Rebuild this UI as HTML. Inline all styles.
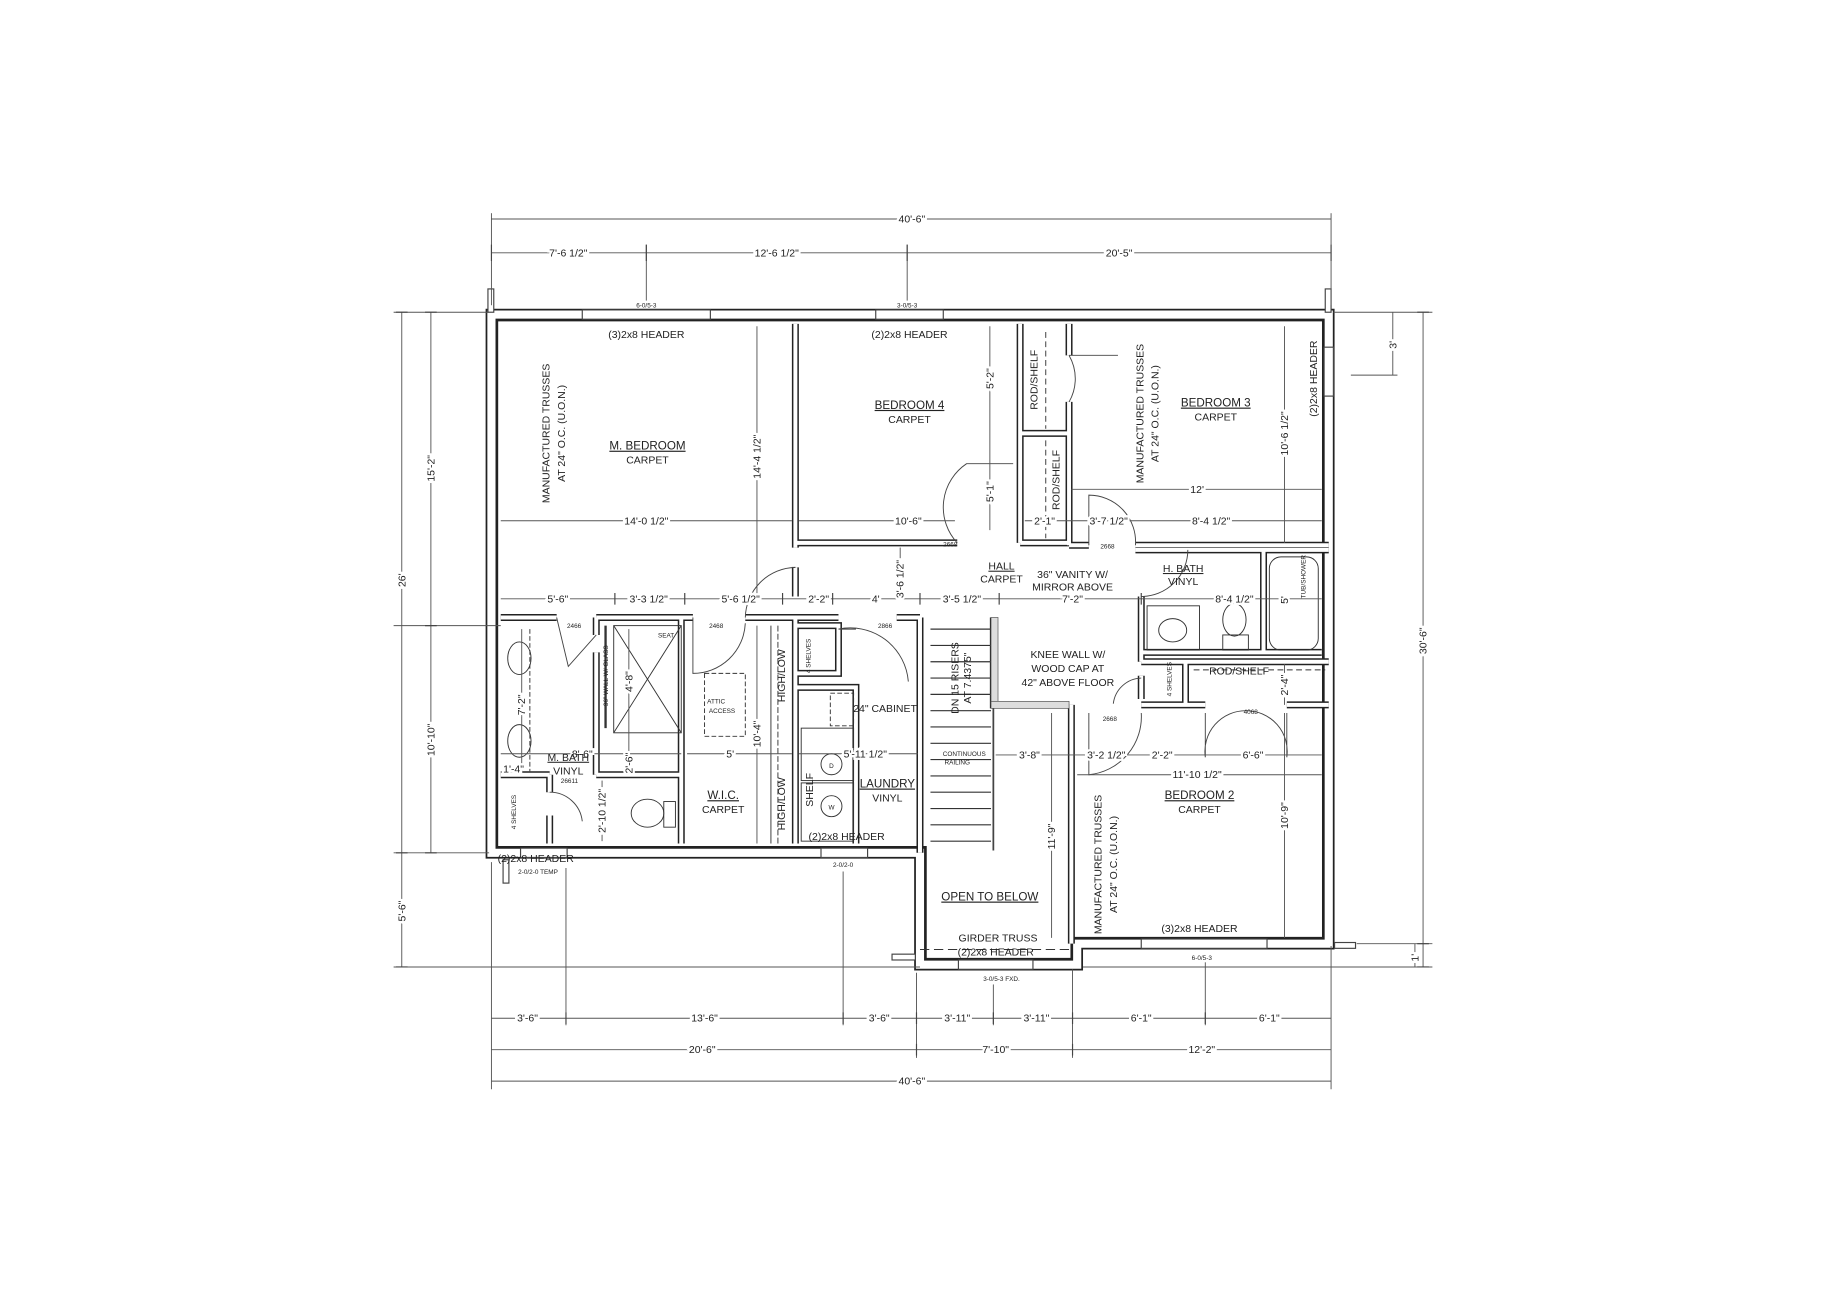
<!DOCTYPE html>
<html><head><meta charset="utf-8"><style>
html,body{margin:0;padding:0;background:#fff}
svg{display:block}
text{font-family:"Liberation Sans",sans-serif;fill:#222}
.t{font-size:9px}
.s{font-size:5.5px}
.l{font-size:10px}
.d line,.d path{stroke:#555;stroke-width:.8;fill:none}
</style></head><body>
<svg width="1826" height="1306" viewBox="0 0 1568 1121" preserveAspectRatio="none" xmlns="http://www.w3.org/2000/svg">
<defs>
<path id="ext" d="M422,270 H1141 V810 H925 V828 H790 V732 H422 Z"/>
<path id="int" d="
M683,278 V470 M683,487 V512
M683,466 H822
M876,278 V372 M876,372 H917 M876,372 V466 M876,466 H918
M918,278 V305 M918,345 V468
M918,468 H935 M975,468 H1141
M430,530 H478 M512,530 H595 M640,530 H720 M770,530 H790
M512,530 V545 M512,560 V665
M430,665 H472 M512,665 H585
M472,665 V680 M472,700 V724
M585,530 V724
M683,530 V724
M683,537 H720 V578 H683 M720,590 H683
M683,590 H735 V724
M790,530 V732
M853,530 V605 H918
M920,605 V810
M980,512 V568 M980,560 H1135
M975,472 H1141 M1085,472 V560
M980,568 H1141 M1018,568 V605 M980,605 H1035 M1105,605 H1141
M980,580 V600
"/>
</defs>
<use href="#ext" stroke="#222" stroke-width="10" fill="none"/>
<use href="#ext" stroke="#fff" stroke-width="7" fill="none"/>
<path d="M427,275 H1136 V805 H920 V823 H795 V727 H427 Z" stroke="#222" stroke-width="1.6" fill="none"/>
<use href="#int" stroke="#222" stroke-width="6" fill="none"/>
<use href="#int" stroke="#fff" stroke-width="3.4" fill="none"/>

<g stroke="#444" stroke-width="1" fill="#fff">
<rect x="500" y="266" width="110" height="8"/><rect x="752" y="266" width="58" height="8"/>
<rect x="1137" y="298" width="8" height="42"/><rect x="980" y="806" width="108" height="8"/>
<rect x="823" y="824" width="64" height="8"/><rect x="447" y="728" width="40" height="8"/>
<rect x="705" y="728" width="40" height="8"/>
<rect x="419" y="248" width="5" height="20"/><rect x="1138" y="248" width="5" height="20"/>
<rect x="432" y="738" width="5" height="20"/><rect x="766" y="819" width="20" height="5"/><rect x="1146" y="809" width="18" height="5"/>
</g>

<g stroke="#333" stroke-width="1">
<path d="M799,540 H851 M799,554 H851 M799,568 H851 M799,582 H851 M799,596 H851 M799,610 H851 M799,624 H851 M799,638 H851 M799,652 H851 M799,666 H851 M799,680 H851 M799,694 H851 M799,708 H851 M799,722 H851"/>
</g>
<rect x="851" y="530" width="6" height="75" fill="#ddd" stroke="#555" stroke-width=".6"/>
<rect x="851" y="602" width="67" height="6" fill="#ddd" stroke="#555" stroke-width=".6"/>
<line x1="853" y1="608" x2="853" y2="730" stroke="#444" stroke-width="1.5"/>

<g stroke="#444" stroke-width=".8" fill="none">
<path d="M640,530 A44,44 0 0 1 683,487"/><path d="M683,487 H680"/>
<path d="M822,466 A45,45 0 0 1 830,398 H870"/>
<path d="M918,305 A40,40 0 0 1 918,345"/><path d="M918,305 H960"/>
<path d="M935,468 V425 A40,40 0 0 1 975,468"/>
<path d="M980,512 A40,40 0 0 0 1020,472"/>
<path d="M478,530 L488,572 L512,545"/>
<path d="M595,530 V578 A45,45 0 0 0 640,535"/>
<path d="M720,540 A50,50 0 0 1 780,585 M720,540 H735"/>
<path d="M980,582 A25,25 0 0 0 956,604"/>
<path d="M935,612 V665 A50,50 0 0 0 980,612"/>
<path d="M1035,612 V650 A35,35 0 0 1 1070,610 A35,35 0 0 1 1105,650 V612"/>
<path d="M472,680 A28,28 0 0 1 500,705"/>
</g>

<g stroke="#333" stroke-width=".8" fill="none">
<ellipse cx="446" cy="565" rx="10" ry="14"/><ellipse cx="446" cy="636" rx="10" ry="14"/>
<line x1="455" y1="540" x2="455" y2="662" stroke-dasharray="4,2"/>
<rect x="527" y="537" width="58" height="92"/><path d="M527,537 L585,629 M585,537 L527,629"/>
<line x1="520" y1="537" x2="520" y2="625" stroke-width="2"/>
<ellipse cx="556" cy="698" rx="14" ry="12"/><rect x="570" y="688" width="10" height="22"/>
<rect x="605" y="578" width="35" height="54" stroke-dasharray="4,2"/>
<line x1="662" y1="537" x2="662" y2="724"/><line x1="668" y1="537" x2="668" y2="724" stroke-dasharray="5,2"/>
<rect x="688" y="625" width="45" height="45"/><rect x="688" y="672" width="45" height="50"/>
<circle cx="714" cy="656" r="9"/><circle cx="714" cy="692" r="9"/>
<rect x="713" y="595" width="20" height="28" stroke-dasharray="4,2"/>
<rect x="985" y="520" width="45" height="38"/><ellipse cx="1007" cy="541" rx="12" ry="10"/>
<ellipse cx="1060" cy="532" rx="10" ry="14"/><rect x="1050" y="545" width="22" height="13"/>
<rect x="1090" y="478" width="42" height="80" rx="10"/>
<line x1="1025" y1="575" x2="1138" y2="575" stroke-dasharray="5,3"/>
<line x1="898" y1="285" x2="898" y2="368" stroke-dasharray="5,3"/><line x1="898" y1="378" x2="898" y2="462" stroke-dasharray="5,3"/>
<line x1="790" y1="815" x2="918" y2="815" stroke-dasharray="8,4"/>
</g>

<g class="d">
<line x1="422" y1="188" x2="1143" y2="188"/><line x1="422" y1="217" x2="1143" y2="217"/>
<line x1="422" y1="183" x2="422" y2="262"/><line x1="1143" y1="183" x2="1143" y2="262"/>
<line x1="555" y1="210" x2="555" y2="258"/><line x1="779" y1="210" x2="779" y2="258"/>
<line x1="345" y1="268" x2="345" y2="830"/><line x1="370" y1="268" x2="370" y2="732"/>
<line x1="338" y1="268" x2="420" y2="268"/><line x1="338" y1="537" x2="430" y2="537"/><line x1="338" y1="732" x2="420" y2="732"/><line x1="338" y1="830" x2="790" y2="830"/>
<line x1="1222" y1="268" x2="1222" y2="830"/><line x1="1145" y1="268" x2="1230" y2="268"/><line x1="1165" y1="810" x2="1230" y2="810"/><line x1="930" y1="830" x2="1230" y2="830"/>
<line x1="1196" y1="268" x2="1196" y2="322"/><line x1="1160" y1="322" x2="1200" y2="322"/><line x1="1215" y1="810" x2="1215" y2="830"/>
<line x1="422" y1="874" x2="1143" y2="874"/><line x1="422" y1="901" x2="1143" y2="901"/><line x1="422" y1="928" x2="1143" y2="928"/>
<line x1="422" y1="740" x2="422" y2="935"/><line x1="1143" y1="812" x2="1143" y2="935"/>
<line x1="486" y1="745" x2="486" y2="880"/><line x1="724" y1="748" x2="724" y2="880"/><line x1="787" y1="835" x2="787" y2="908"/>
<line x1="853" y1="845" x2="853" y2="880"/><line x1="921" y1="832" x2="921" y2="908"/><line x1="1035" y1="826" x2="1035" y2="880"/>
<line x1="430" y1="514" x2="1135" y2="514"/>
<line x1="430" y1="447" x2="680" y2="447"/><line x1="686" y1="447" x2="820" y2="447"/><line x1="880" y1="447" x2="1135" y2="447"/>
<line x1="920" y1="420" x2="1135" y2="420"/>
<line x1="650" y1="280" x2="650" y2="514"/><line x1="850" y1="280" x2="850" y2="455"/>
<line x1="1103" y1="280" x2="1103" y2="466"/><line x1="773" y1="470" x2="773" y2="514"/>
<line x1="855" y1="648" x2="1135" y2="648"/><line x1="925" y1="665" x2="1135" y2="665"/>
<line x1="903" y1="612" x2="903" y2="805"/><line x1="1103" y1="612" x2="1103" y2="805"/><line x1="1103" y1="570" x2="1103" y2="605"/>
<line x1="430" y1="647" x2="585" y2="647"/><line x1="590" y1="647" x2="680" y2="647"/><line x1="686" y1="647" x2="788" y2="647"/>
<line x1="448" y1="540" x2="448" y2="662"/><line x1="540" y1="540" x2="540" y2="665"/><line x1="517" y1="670" x2="517" y2="722"/>
<line x1="650" y1="537" x2="650" y2="724"/>
</g>
<g stroke="#444" stroke-width="1">
<path d="M422,210 V224 M555,210 V224 M779,210 V224 M1143,210 V224 M340,268 H350 M340,732 H350 M340,830 H350 M365,268 H375 M365,537 H375 M365,732 H375 M1217,268 H1227 M1217,810 H1227 M1217,830 H1227 M486,869 V879 M724,869 V879 M787,869 V879 M853,869 V879 M921,869 V879 M1035,869 V879 M787,896 V906 M921,896 V906 M528,509 V519 M588,509 V519 M672,509 V519 M715,509 V519 M790,509 V519 M858,509 V519 M980,509 V519"/>
</g>

<g class="t" text-anchor="middle">
<text x="783" y="191" style="paint-order:stroke" stroke="#fff" stroke-width="4">40'-6"</text>
<g stroke="#fff" stroke-width="4" style="paint-order:stroke">
<text x="488" y="220">7'-6 1/2"</text><text x="667" y="220">12'-6 1/2"</text><text x="961" y="220">20'-5"</text>
<text x="453" y="877">3'-6"</text><text x="605" y="877">13'-6"</text><text x="755" y="877">3'-6"</text><text x="822" y="877">3'-11"</text><text x="890" y="877">3'-11"</text><text x="980" y="877">6'-1"</text><text x="1090" y="877">6'-1"</text>
<text x="603" y="904">20'-6"</text><text x="855" y="904">7'-10"</text><text x="1032" y="904">12'-2"</text>
<text x="783" y="931">40'-6"</text>
<text x="479" y="517">5'-6"</text><text x="557" y="517">3'-3 1/2"</text><text x="636" y="517">5'-6 1/2"</text><text x="703" y="517">2'-2"</text><text x="752" y="517">4'</text><text x="826" y="517">3'-5 1/2"</text><text x="921" y="517">7'-2"</text><text x="1060" y="517">8'-4 1/2"</text>
<text x="555" y="450">14'-0 1/2"</text><text x="780" y="450">10'-6"</text><text x="897" y="450">2'-1"</text><text x="952" y="450">3'-7 1/2"</text><text x="1040" y="450">8'-4 1/2"</text><text x="1028" y="423">12'</text>
<text x="884" y="651">3'-8"</text><text x="950" y="651">3'-2 1/2"</text><text x="998" y="651">2'-2"</text><text x="1076" y="651">6'-6"</text><text x="1028" y="668">11'-10 1/2"</text>
<text x="500" y="650">8'-6"</text><text x="627" y="650">5'</text><text x="743" y="650">5'-11 1/2"</text><text x="441" y="663">1'-4"</text>
</g>
<text x="555" y="290">(3)2x8 HEADER</text><text x="781" y="290">(2)2x8 HEADER</text>
<text x="1030" y="800">(3)2x8 HEADER</text><text x="855" y="820">(2)2x8 HEADER</text><text x="857" y="808">GIRDER TRUSS</text>
<text x="727" y="721">(2)2x8 HEADER</text><text x="460" y="740">(2)2x8 HEADER</text>
<text x="860" y="489" text-decoration="underline">HALL</text><text x="860" y="500">CARPET</text>
<text x="921" y="496">36" VANITY W/</text><text x="921" y="507">MIRROR ABOVE</text>
<text x="1016" y="491" text-decoration="underline">H. BATH</text><text x="1016" y="502">VINYL</text>
<text x="917" y="565">KNEE WALL W/</text><text x="917" y="577">WOOD CAP AT</text><text x="917" y="589">42" ABOVE FLOOR</text>
<text x="1064" y="579">ROD/SHELF</text>
<text x="488" y="653" text-decoration="underline">M. BATH</text><text x="488" y="665">VINYL</text>
<text x="621" y="686" class="l" text-decoration="underline">W.I.C.</text><text x="621" y="698">CARPET</text>
<text x="760" y="611">24" CABINET</text>
<text x="762" y="676" class="l" text-decoration="underline">LAUNDRY</text><text x="762" y="688">VINYL</text>
<text x="850" y="773" class="l" text-decoration="underline">OPEN TO BELOW</text>
<text x="714" y="659" class="s">D</text><text x="714" y="695" class="s">W</text>
</g>
<g class="l" text-anchor="middle">
<text x="556" y="386" text-decoration="underline">M. BEDROOM</text><text x="556" y="398" class="t">CARPET</text>
<text x="781" y="351" text-decoration="underline">BEDROOM 4</text><text x="781" y="363" class="t">CARPET</text>
<text x="1044" y="349" text-decoration="underline">BEDROOM 3</text><text x="1044" y="361" class="t">CARPET</text>
<text x="1030" y="686" text-decoration="underline">BEDROOM 2</text><text x="1030" y="698" class="t">CARPET</text>
</g>
<g class="s" text-anchor="middle">
<text x="555" y="264">6-0/5-3</text><text x="779" y="264">3-0/5-3</text><text x="1032" y="824">6-0/5-3</text>
<text x="860" y="842">3-0/5-3 FXD.</text><text x="724" y="744">2-0/2-0</text><text x="462" y="750">2-0/2-0 TEMP</text>
<text x="615" y="604">ATTIC</text><text x="620" y="612">ACCESS</text>
<text x="572" y="547">SEAT</text><text x="489" y="672">26611</text>
<text x="493" y="539">2466</text><text x="615" y="539">2468</text><text x="760" y="539">2866</text>
<text x="816" y="469">2668</text><text x="951" y="471">2668</text><text x="953" y="619">2668</text><text x="1074" y="613">4068</text>
<text x="828" y="649">CONTINUOUS</text><text x="822" y="656">RAILING</text>
</g>
<g class="t" text-anchor="middle">
<text transform="translate(472,372) rotate(-90)">MANUFACTURED TRUSSES</text>
<text transform="translate(485,372) rotate(-90)">AT 24" O.C. (U.O.N.)</text>
<text transform="translate(982,355) rotate(-90)">MANUFACTURED TRUSSES</text>
<text transform="translate(995,355) rotate(-90)">AT 24" O.C. (U.O.N.)</text>
<text transform="translate(946,742) rotate(-90)">MANUFACTURED TRUSSES</text>
<text transform="translate(959,742) rotate(-90)">AT 24" O.C. (U.O.N.)</text>
<text transform="translate(1131,325) rotate(-90)">(2)2x8 HEADER</text>
<text transform="translate(891,326) rotate(-90)">ROD/SHELF</text>
<text transform="translate(910,412) rotate(-90)">ROD/SHELF</text>
<text transform="translate(823,582) rotate(-90)">DN 15 RISERS</text>
<text transform="translate(834,582) rotate(-90)">AT 7.4375"</text>
<text transform="translate(674,580) rotate(-90)">HIGH/LOW</text>
<text transform="translate(674,690) rotate(-90)">HIGH/LOW</text>
<text transform="translate(698,678) rotate(-90)">SHELF</text>
<text transform="translate(522,580) rotate(-90)" class="s">36" WALL W/ GLASS</text>
<text transform="translate(1121,495) rotate(-90)" class="s">TUB/SHOWER</text>
<text transform="translate(696,563) rotate(-90)" class="s">4 SHELVES</text>
<text transform="translate(443,697) rotate(-90)" class="s">4 SHELVES</text>
<text transform="translate(1006,583) rotate(-90)" class="s">4 SHELVES</text>
<g stroke="#fff" stroke-width="4" style="paint-order:stroke">
<text transform="translate(348,498) rotate(-90)">26'</text>
<text transform="translate(373,402) rotate(-90)">15'-2"</text>
<text transform="translate(373,635) rotate(-90)">10'-10"</text>
<text transform="translate(348,782) rotate(-90)">5'-6"</text>
<text transform="translate(1225,550) rotate(-90)">30'-6"</text>
<text transform="translate(1218,822) rotate(-90)">1'</text>
<text transform="translate(1199,296) rotate(-90)">3'</text>
<text transform="translate(653,392) rotate(-90)">14'-4 1/2"</text>
<text transform="translate(853,325) rotate(-90)">5'-2"</text>
<text transform="translate(853,422) rotate(-90)">5'-1"</text>
<text transform="translate(1106,372) rotate(-90)">10'-6 1/2"</text>
<text transform="translate(776,497) rotate(-90)">3'-6 1/2"</text>
<text transform="translate(1106,515) rotate(-90)">5'</text>
<text transform="translate(1106,588) rotate(-90)">2'-4"</text>
<text transform="translate(906,718) rotate(-90)">11'-9"</text>
<text transform="translate(1106,700) rotate(-90)">10'-9"</text>
<text transform="translate(653,630) rotate(-90)">10'-4"</text>
<text transform="translate(451,605) rotate(-90)">7'-2"</text>
<text transform="translate(543,585) rotate(-90)">4'-8"</text>
<text transform="translate(543,655) rotate(-90)">2'-6"</text>
<text transform="translate(520,696) rotate(-90)">2'-10 1/2"</text>
</g>
</g>
</svg>
</body></html>
